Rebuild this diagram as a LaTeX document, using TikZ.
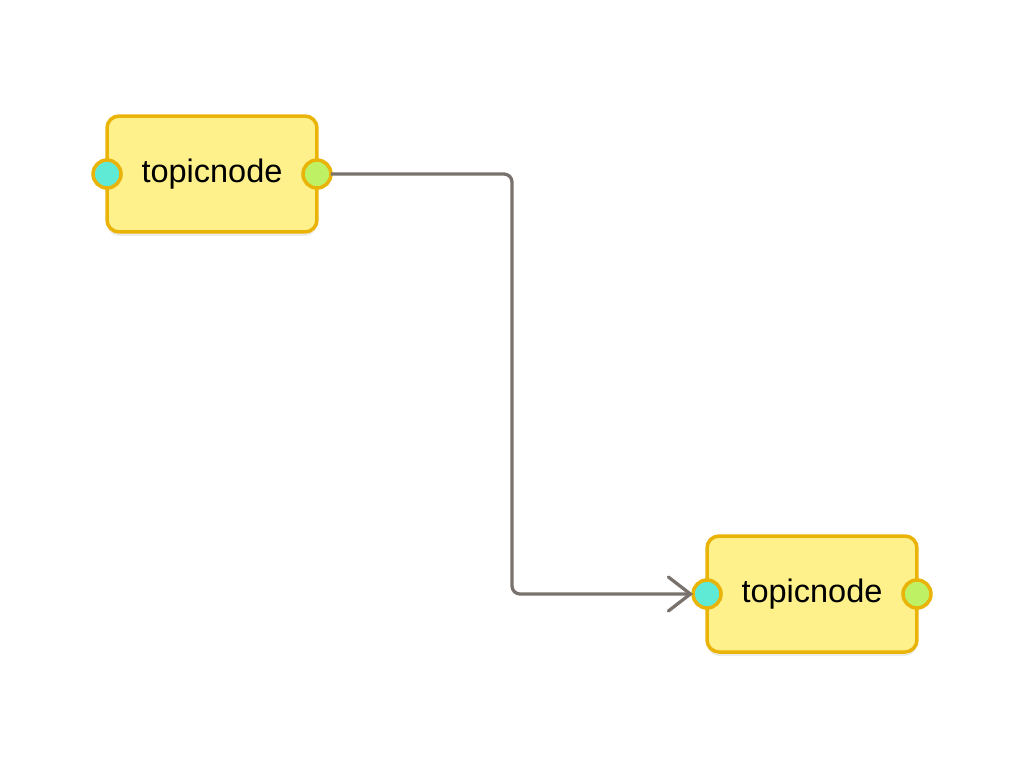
\documentclass[tikz,border=0pt]{standalone}
\usepackage{fontspec}
\setmainfont{Liberation Sans}
\usetikzlibrary{arrows.meta}
\usetikzlibrary{shadows}
\usetikzlibrary{calc}
\definecolor{nodeborder}{HTML}{EAB308}
\definecolor{nodefill}{HTML}{FEF08A}
\definecolor{portin}{HTML}{5EEAD4}
\definecolor{portout}{HTML}{BEF264}
\definecolor{linkgray}{HTML}{78716C}
\tikzstyle{topic}=[draw=nodeborder,fill=nodefill,line width=0.07cm,rounded corners=0.24cm,minimum width=4.2cm,minimum height=2.32cm,inner sep=0,outer sep=0,font=\fontsize{18.5}{21}\selectfont,drop shadow={opacity=0.15,shadow xshift=0cm,shadow yshift=-0.08cm}]
\tikzstyle{port}=[circle,draw=nodeborder,line width=0.07cm,minimum size=0.56cm,inner sep=0,outer sep=0]
\tikzstyle{link}=[draw=linkgray,line width=0.065cm,rounded corners=0.16cm,-{Straight Barb[length=0.44cm,width=0.68cm,line cap=round]}]

\begin{document}
\begin{tikzpicture}[x=0.02cm,y=-0.02cm]  % 1 unit = 1 px
\useasboundingbox (0,0) rectangle (1024,768);

\node[topic] (t1) at (212,174) {topicnode};
\node[port,fill=portin]  (i1) at (t1.west) {};
\node[port,fill=portout] (o1) at (t1.east) {};

\node[topic] (t2) at (812,594) {topicnode};
\node[port,fill=portin]  (i2) at (t2.west) {};
\node[port,fill=portout] (o2) at (t2.east) {};

\draw[link] (o1.east) -| ($(o1)!0.5!(i2)$) |- (i2.west);
\end{tikzpicture}
\end{document}
